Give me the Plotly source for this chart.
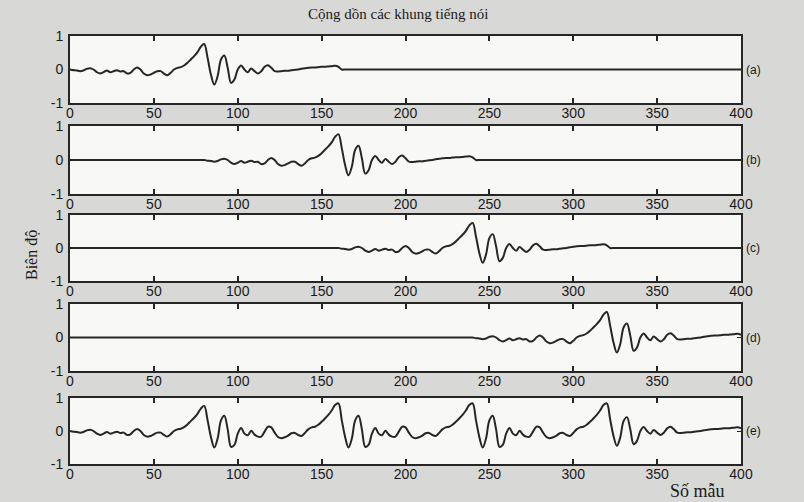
import plotly.graph_objects as go

# ---- data ----
# one speech frame, 160 samples long, read every 2 samples (offsets 0..160)
frame_template = [
    0.00, -0.02, -0.03, -0.05, -0.03, 0.02, 0.04, 0.00, -0.08, -0.12,
    -0.08, -0.03, -0.08, -0.05, -0.02, -0.06, -0.05, -0.12, -0.10, 0.00,
    0.06, 0.00, -0.12, -0.17, -0.15, -0.10, -0.05, -0.05, -0.12, -0.17,
    -0.10, 0.00, 0.05, 0.07, 0.12, 0.20, 0.30, 0.40, 0.52, 0.68,
    0.76, 0.35, -0.15, -0.45, -0.20, 0.30, 0.42, 0.05, -0.40, -0.30,
    0.00, 0.12, 0.00, -0.08, 0.03, -0.05, -0.12, -0.05, 0.08, 0.13,
    0.05, -0.05, -0.06, -0.05, -0.04, -0.04, -0.02, -0.01, 0.00, 0.02,
    0.04, 0.05, 0.06, 0.06, 0.07, 0.08, 0.08, 0.09, 0.10, 0.11,
    0.08,
]
frame_step = 2
frame_length = 160
frame_starts = [0, 80, 160, 240]          # frames (a) (b) (c) (d)
panel_labels = ["(a)", "(b)", "(c)", "(d)", "(e)"]
sample_axis = list(range(0, 402, 2))      # Số mẫu 0..400
x_ticks = [0, 50, 100, 150, 200, 250, 300, 350, 400]
y_ticks = [-1, 0, 1]
title_text = "Cộng dồn các khung tiếng nói"
x_title = "Số mẫu"
y_title = "Biên độ"


def place_frame(start):
    out = []
    for x in sample_axis:
        if start <= x <= start + frame_length:
            out.append(frame_template[(x - start) // frame_step])
        else:
            out.append(0.0)
    return out


frames = [place_frame(s) for s in frame_starts]
overlap_sum = [sum(v) for v in zip(*frames)]
series = frames + [overlap_sum]

# ---- figure ----
W, H = 804, 502
L, R, T, B = 70, 63, 36, 38
plot_h = H - T - B
panels_px = [(36, 103), (126, 194), (215, 281), (304, 371), (398, 464)]

fig = go.Figure()
line_col = "#262626"
tick_font = dict(family="Liberation Sans Narrow, Arial Narrow, Liberation Sans, sans-serif",
                 size=14, color="#1a1a1a")

for i, ys in enumerate(series):
    n = "" if i == 0 else str(i + 1)
    top, bot = panels_px[i]
    dom = [(H - B - bot) / plot_h, (H - B - top) / plot_h]
    fig.add_trace(go.Scatter(x=sample_axis, y=ys, mode="lines",
                             line=dict(color=line_col, width=2.0, shape="spline", smoothing=1.0),
                             xaxis="x" + n, yaxis="y" + n, showlegend=False,
                             hoverinfo="skip"))
    fig.layout["xaxis" + n] = dict(
        domain=[0, 1], anchor="y" + n, range=[0, 400], tickvals=x_ticks,
        ticktext=[str(t) for t in x_ticks], ticks="inside", ticklen=5, tickwidth=1.6,
        tickcolor=line_col, showline=True, linecolor=line_col, linewidth=2,
        mirror="ticks", showgrid=False, zeroline=False, tickfont=tick_font,
        ticklabelstandoff=-4,
    )
    fig.layout["yaxis" + n] = dict(
        domain=dom, anchor="x" + n, range=[-1, 1], tickvals=y_ticks,
        ticktext=[str(t) for t in y_ticks], ticks="inside", ticklen=4, tickwidth=1.4,
        tickcolor=line_col, showline=True, linecolor=line_col, linewidth=2,
        mirror="ticks", showgrid=False, zeroline=False, tickfont=tick_font,
        ticklabelstandoff=2,
    )
    fig.add_annotation(text=panel_labels[i], xref="paper", yref="y" + n, x=1, y=0,
                       xanchor="left", yanchor="middle", xshift=3, showarrow=False,
                       font=dict(family="Liberation Sans, Arial, sans-serif", size=12,
                                 color="#1a1a1a"))

serif = "Liberation Serif, Times New Roman, serif"
fig.add_annotation(text=title_text, xref="paper", yref="paper",
                   x=(398 - L) / (W - L - R), y=(H - B - 14) / plot_h,
                   xanchor="center", yanchor="middle", showarrow=False,
                   font=dict(family=serif, size=15, color="#1a1a1a"))
fig.add_annotation(text=x_title, xref="paper", yref="paper",
                   x=(697 - L) / (W - L - R), y=(H - B - 491) / plot_h,
                   xanchor="center", yanchor="middle", showarrow=False,
                   font=dict(family=serif, size=18, color="#1a1a1a"))
fig.add_annotation(text=y_title, xref="paper", yref="paper",
                   x=(31 - L) / (W - L - R), y=(H - B - 255) / plot_h,
                   xanchor="center", yanchor="middle", textangle=-90, showarrow=False,
                   font=dict(family=serif, size=16, color="#1a1a1a"))

fig.update_layout(width=W, height=H, margin=dict(l=L, r=R, t=T, b=B),
                  paper_bgcolor="#d8d8d6", plot_bgcolor="#f8f8f6")
fig.write_html("out.html")
